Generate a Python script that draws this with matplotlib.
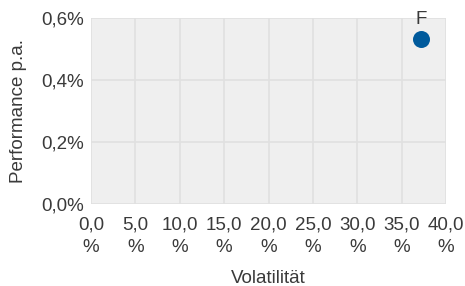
import numpy as np
import matplotlib.pyplot as plt

# data
labels = ['F']
volatility = [37.2]      # in %
performance = [0.53]     # in %

x_ticks = np.arange(0, 45, 5)
y_ticks = [0.0, 0.2, 0.4, 0.6]

plt.rcParams['font.family'] = ['Liberation Sans', 'DejaVu Sans']
text_color = '#3a3a3a'
fs = 13.5

fig, ax = plt.subplots(figsize=(4.65, 2.86), dpi=100)
fig.subplots_adjust(left=91 / 465, right=446 / 465, top=1 - 17.7 / 286, bottom=1 - 204 / 286)

ax.set_facecolor('#efefef')
for s in ax.spines.values():
    s.set_visible(False)

ax.scatter(volatility, performance, s=150, color='#005a9c', zorder=3, linewidths=0)
for lab, xv, yv in zip(labels, volatility, performance):
    ax.annotate(lab, (xv, yv), xytext=(0, 14), textcoords='offset points',
                ha='center', va='center', fontsize=fs, color=text_color)

ax.set_xlim(0, 40)
ax.set_ylim(0, 0.6)
ax.set_xticks(x_ticks)
ax.set_xticklabels([f'{v:.1f}'.replace('.', ',') + '\n%' for v in x_ticks])
ax.set_yticks(y_ticks)
ax.set_yticklabels([f'{v:.1f}'.replace('.', ',') + '%' for v in y_ticks])
ax.tick_params(length=0, labelsize=fs, colors=text_color)
ax.tick_params(axis='x', pad=9)
ax.tick_params(axis='y', pad=5)
ax.grid(True, color='#e0e0e0', linewidth=1.2)
ax.set_axisbelow(True)
for t in ax.get_xticklabels():
    t.set_linespacing(1.45)

ax.set_xlabel('Volatilität', fontsize=fs, color=text_color, labelpad=10)
ax.set_ylabel('Performance p.a.', fontsize=fs, color=text_color, labelpad=10)

fig.savefig('out.png', dpi=100)
